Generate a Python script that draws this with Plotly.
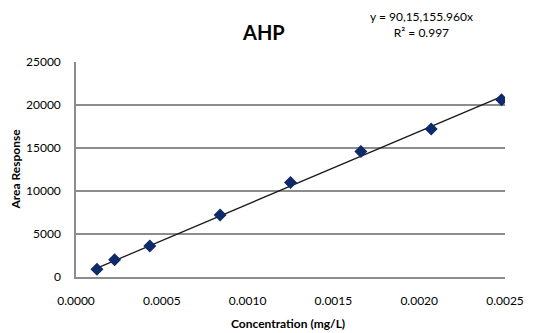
import numpy as np
import plotly.graph_objects as go

# Data
concentration = [0.000122, 0.000225, 0.00043, 0.00084, 0.00125, 0.00166, 0.00207, 0.00248]
area_response = [900, 2000, 3600, 7200, 11000, 14600, 17200, 20600]
x_ticks = [0.0, 0.0005, 0.0010, 0.0015, 0.0020, 0.0025]
x_tick_labels = ["0.0000", "0.0005", "0.0010", "0.0015", "0.0020", "0.0025"]
y_ticks = [0, 5000, 10000, 15000, 20000, 25000]
y_tick_labels = ["0", "5000", "10000", "15000", "20000", "25000"]
equation_text = "y = 90,15,155.960x<br>R² = 0.997"

# Linear trendline through origin (least squares)
xa = np.array(concentration)
ya = np.array(area_response)
slope = float((xa * ya).sum() / (xa * xa).sum())
trend_x = [float(xa.min()), float(xa.max())]
trend_y = [slope * v for v in trend_x]

FONT = "Lato"

fig = go.Figure()
fig.add_trace(go.Scatter(
    x=trend_x, y=trend_y, mode="lines",
    line=dict(color="#1a1a1a", width=1.3),
    showlegend=False, hoverinfo="skip"))
fig.add_trace(go.Scatter(
    x=concentration, y=area_response, mode="markers",
    marker=dict(symbol="diamond", size=10, color="#0f2a6b"),
    showlegend=False))

fig.update_layout(
    width=545, height=333,
    margin=dict(l=76, r=40, t=62, b=56, autoexpand=False),
    paper_bgcolor="white", plot_bgcolor="white",
    font=dict(family=FONT, color="#000000", size=12),
    xaxis=dict(
        range=[0, 0.0025], tickvals=x_ticks, ticktext=x_tick_labels,
        showgrid=False, zeroline=False, automargin=False,
        showline=True, linecolor="#8c8c8c", linewidth=1.5,
        ticks="outside", ticklen=12, tickcolor="rgba(0,0,0,0)",
        tickfont=dict(size=12),
    ),
    yaxis=dict(
        range=[0, 25000], tickvals=y_ticks, ticktext=y_tick_labels,
        showgrid=True, gridcolor="#8c8c8c", gridwidth=1.5,
        zeroline=False, automargin=False,
        showline=True, linecolor="#8c8c8c", linewidth=1.5,
        ticks="outside", ticklen=11, tickcolor="rgba(0,0,0,0)",
        tickfont=dict(size=12),
    ),
    annotations=[
        dict(text="<b>AHP</b>", xref="paper", yref="paper",
             x=0.438, y=1.14, xanchor="center", yanchor="middle",
             showarrow=False, font=dict(size=20, family=FONT, color="#000000")),
        dict(text=equation_text, xref="paper", yref="paper",
             x=0.806, y=1.092, xanchor="center", yanchor="bottom",
             showarrow=False, align="center",
             font=dict(size=12, family=FONT, color="#000000")),
        dict(text="<b>Area Response</b>", xref="paper", yref="paper",
             x=-0.142, y=0.5, xanchor="center", yanchor="middle", textangle=-90,
             showarrow=False, font=dict(size=12, family=FONT, color="#000000")),
        dict(text="<b>Concentration (mg/L)</b>", xref="paper", yref="paper",
             x=0.494, y=-0.215, xanchor="center", yanchor="middle",
             showarrow=False, font=dict(size=12, family=FONT, color="#000000")),
    ],
)

fig.write_html(
    "out.html",
    config={"displayModeBar": False},
    post_script="document.body.style.margin='0';document.body.style.overflow='hidden';",
)
